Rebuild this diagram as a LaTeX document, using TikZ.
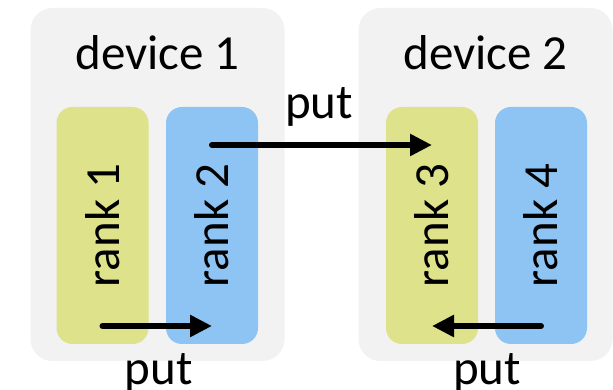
\documentclass[tikz,border=0pt]{standalone}
\usepackage{fontspec}
\setmainfont{Carlito}
\usepackage{xcolor}
\usepackage{tikz}
\usetikzlibrary{arrows.meta,positioning,calc}
\definecolor{devgray}{HTML}{F2F2F2}
\definecolor{rankgreen}{HTML}{DEE38B}
\definecolor{rankblue}{HTML}{8EC4F3}
\tikzset{
  big/.style={font=\fontsize{49pt}{59pt}\selectfont, inner sep=0pt},
  device/.style={fill=devgray, rounded corners=22pt, minimum width=254pt, minimum height=353pt, inner sep=0pt},
  rank/.style={big, rounded corners=16pt, minimum width=92pt, minimum height=237pt},
  rankA/.style={rank, fill=rankgreen},
  rankB/.style={rank, fill=rankblue},
  putarrow/.style={-{Triangle[length=22pt,width=21pt]}, line width=6pt, line cap=round}
}

\begin{document}
\begin{tikzpicture}[x=1pt,y=1pt]
    \useasboundingbox (0,0) rectangle (613,390);
    % Devices
    \node[device] (device1) at (157.5,205.5) {};
    \node[device] (device2) at (485.5,205.5) {};
    \node[big, anchor=base] (dev1lbl) at (device1 |- 0,320) {device 1};
    \node[big, anchor=base] (dev2lbl) at (device2 |- 0,320) {device 2};
    % Ranks
    \node[rankA] (rank1) at (102.5,164.5) {\rotatebox{90}{rank 1}};
    \node[rankB] (rank2) at (212,164.5) {\rotatebox{90}{rank 2}};
    \node[rankA] (rank3) at (432,164.5) {\rotatebox{90}{rank 3}};
    \node[rankB] (rank4) at (541,164.5) {\rotatebox{90}{rank 4}};
    % Puts
    \coordinate (hiY) at (0,245);
    \coordinate (loY) at (0,64);
    \draw[putarrow] (rank2 |- hiY) -- (rank3 |- hiY);
    \draw[putarrow] (rank1 |- loY) -- (rank2 |- loY);
    \draw[putarrow] (rank4 |- loY) -- (rank3 |- loY);
    \node[big, anchor=base] (put1) at (319,271) {put};
    \node[big, anchor=base] (put2) at (158.5,5) {put};
    \node[big, anchor=base] (put3) at (487,5) {put};
  \end{tikzpicture}
\end{document}
